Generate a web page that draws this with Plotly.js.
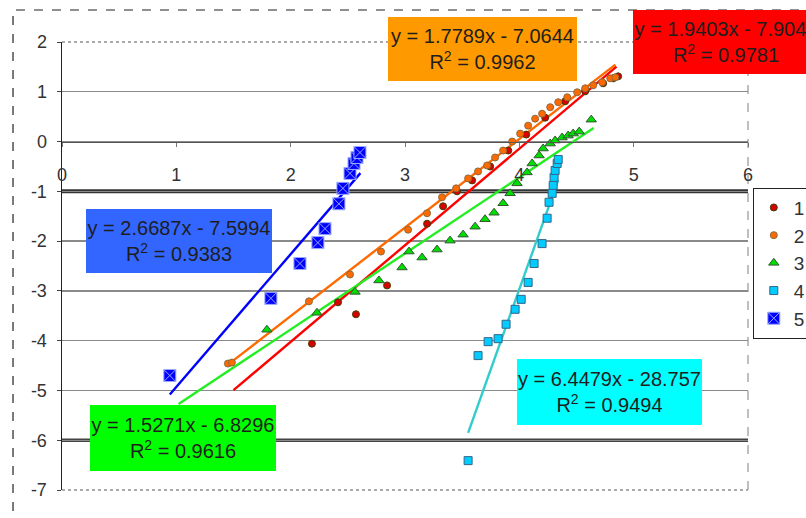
<!DOCTYPE html>
<html>
<head>
<meta charset="utf-8">
<script src="https://cdn.plot.ly/plotly-3.0.1.min.js"></script>
<style>html,body{margin:0;padding:0;background:#fff;}#chart{width:806px;height:518px;}</style>
</head>
<body>
<div id="chart"></div>
<script>
// ---- data ----
const seriesNames = ['1', '2', '3', '4', '5'];

const x1 = [2.186, 2.414, 2.571, 2.843, 3.193, 3.333, 3.455, 3.587, 3.745, 3.903, 4.060, 4.226, 4.401, 4.576, 4.733, 4.820, 4.864];
const y1 = [-4.06, -3.23, -3.47, -2.89, -1.65, -1.30, -1.00, -0.78, -0.50, -0.18, 0.14, 0.48, 0.81, 1.01, 1.17, 1.27, 1.31];

const x2 = [1.451, 1.486, 2.160, 2.519, 2.790, 3.027, 3.193, 3.324, 3.447, 3.552, 3.639, 3.718, 3.788, 3.858, 3.937, 4.007, 4.077, 4.138, 4.199, 4.270, 4.340, 4.419, 4.506, 4.576, 4.646, 4.725, 4.795, 4.839];
const y2 = [-4.46, -4.44, -3.21, -2.67, -2.21, -1.77, -1.44, -1.12, -0.94, -0.74, -0.60, -0.48, -0.32, -0.18, 0.00, 0.16, 0.32, 0.46, 0.56, 0.69, 0.79, 0.89, 0.99, 1.07, 1.13, 1.19, 1.27, 1.29];

const x3 = [1.792, 2.230, 2.563, 2.772, 2.974, 3.035, 3.149, 3.280, 3.394, 3.508, 3.613, 3.700, 3.779, 3.858, 3.919, 3.980, 4.068, 4.112, 4.173, 4.208, 4.270, 4.313, 4.374, 4.427, 4.471, 4.524, 4.629];
const y3 = [-3.78, -3.44, -3.02, -2.79, -2.53, -2.21, -2.33, -2.17, -1.99, -1.87, -1.71, -1.56, -1.43, -1.24, -1.04, -0.84, -0.62, -0.44, -0.28, -0.14, -0.04, 0.02, 0.08, 0.12, 0.16, 0.20, 0.44];

const x4 = [3.552, 3.639, 3.727, 3.814, 3.884, 3.963, 4.016, 4.077, 4.129, 4.199, 4.243, 4.260, 4.287, 4.296, 4.304, 4.313, 4.331, 4.340];
const y4 = [-6.41, -4.30, -4.02, -3.96, -3.67, -3.37, -3.17, -2.83, -2.45, -2.05, -1.54, -1.22, -1.04, -0.88, -0.72, -0.58, -0.44, -0.36];

const x5 = [0.943, 1.827, 2.081, 2.238, 2.300, 2.422, 2.457, 2.519, 2.554, 2.580, 2.606];
const y5 = [-4.70, -3.15, -2.45, -2.03, -1.75, -1.25, -0.94, -0.64, -0.44, -0.32, -0.22];

// linear trendlines: y = slope*x + intercept
const slopes     = [1.9403, 1.7789, 1.5271, 6.4479, 2.6687];
const intercepts = [-7.9043, -7.0644, -6.8296, -28.757, -7.5994];
const r2Values   = ['0.9781', '0.9962', '0.9616', '0.9494', '0.9383'];
const eqLabels   = ['y = 1.9403x - 7.9043', 'y = 1.7789x - 7.0644', 'y = 1.5271x - 6.8296', 'y = 6.4479x - 28.757', 'y = 2.6687x - 7.5994'];
const trendStart = [1.50, 1.46, 1.02, 3.552, 0.943];
const trendEnd   = [4.85, 4.84, 4.65, 4.34, 2.61];

const xTicks = [0, 1, 2, 3, 4, 5, 6];
const yTicks = [2, 1, 0, -1, -2, -3, -4, -5, -6, -7];

// ---- styling ----
const lineColors = ['#FF0000', '#FF6A00', '#22EE22', '#33CCCC', '#0000FF'];
const boxColors  = ['#FF0000', '#FF9900', '#00FF00', '#00FFFF', '#3366FF'];
const markers = [
  {symbol: 'circle', color: '#D80000', size: 7, line: {color: '#404000', width: 1}},
  {symbol: 'circle', color: '#FF6A00', size: 7, line: {color: '#8a6a40', width: 1}},
  {symbol: 'triangle-up', color: '#00DD00', size: 9, line: {color: '#335533', width: 1}},
  {symbol: 'square', color: '#00CCFF', size: 8, line: {color: '#336688', width: 1}},
  {symbol: 'square-x', color: '#0000FF', size: 12, line: {color: '#99AAFF', width: 1}}
];
const xs = [x1, x2, x3, x4, x5];
const ys = [y1, y2, y3, y4, y5];

const traces = [];
// trendlines first (under markers)
for (let i = 0; i < 5; i++) {
  const tx = [trendStart[i], trendEnd[i]];
  traces.push({
    x: tx, y: tx.map(v => slopes[i] * v + intercepts[i]),
    mode: 'lines', type: 'scatter', showlegend: false, hoverinfo: 'skip',
    line: {color: lineColors[i], width: 2.4}
  });
}
for (let i = 0; i < 5; i++) {
  traces.push({
    x: xs[i], y: ys[i], name: seriesNames[i], legendgroup: 'g' + i,
    mode: 'markers', type: 'scatter', marker: markers[i]
  });
}

// equation boxes (centres in data units, size in px)
const boxCx = [4.996, 3.679, 1.0566, 4.790, 1.0216];
const boxCy = [1.991, 1.850, -5.964, -5.040, -2.007];
const boxW  = [186, 189, 186, 185, 186];
const boxH  = [64, 64, 66, 66, 64];
const annotations = [];
for (let i = 0; i < 5; i++) {
  annotations.push({
    x: boxCx[i], y: boxCy[i], xref: 'x', yref: 'y',
    xanchor: i === 0 ? 'left' : 'center', yanchor: 'middle',
    text: eqLabels[i] + '<br>R<sup>2</sup> = ' + r2Values[i],
    showarrow: false, align: 'center',
    bgcolor: boxColors[i], borderpad: 0, borderwidth: 0,
    width: boxW[i], height: boxH[i],
    font: {family: 'Liberation Sans, Arial, sans-serif', size: 20, color: '#1e1e1e'}
  });
}

const shapes = [
  // outer chart border
  {type: 'rect', xref: 'paper', yref: 'paper', x0: -0.0714, x1: 1.3, y0: -0.3, y1: 1.0714,
   line: {color: '#222', width: 1.2, dash: 'dash'}, fillcolor: 'rgba(0,0,0,0)', layer: 'below'},
  // heavy gridlines
  {type: 'line', xref: 'paper', yref: 'y', x0: 0, x1: 1, y0: -1, y1: -1, line: {color: '#333', width: 4}, layer: 'between'},
  {type: 'line', xref: 'paper', yref: 'y', x0: 0, x1: 1, y0: -6, y1: -6, line: {color: '#444', width: 3.5}, layer: 'between'},
  // plot area borders
  {type: 'line', xref: 'paper', yref: 'paper', x0: 0, x1: 1, y0: 1, y1: 1, line: {color: '#aaa', width: 2, dash: 'dot'}, layer: 'between'},
  {type: 'line', xref: 'paper', yref: 'paper', x0: 0, x1: 1, y0: 0, y1: 0, line: {color: '#aaa', width: 2, dash: 'dot'}, layer: 'between'},
  {type: 'line', xref: 'paper', yref: 'paper', x0: 1, x1: 1, y0: 0, y1: 1, line: {color: '#aaa', width: 1.5, dash: 'dash'}, layer: 'between'}
];

const layout = {
  width: 806, height: 518,
  margin: {l: 62, r: 58, t: 42, b: 28, autoexpand: false},
  paper_bgcolor: '#fff', plot_bgcolor: '#fff',
  font: {family: 'Liberation Sans, Arial, sans-serif', color: '#333'},
  xaxis: {
    range: [0, 6], tickvals: xTicks, ticktext: xTicks.map(String),
    anchor: 'free', position: 7 / 9, side: 'bottom',
    showline: true, linecolor: '#555', linewidth: 1.5,
    showgrid: false, zeroline: false,
    ticks: 'outside', ticklen: 4, tickcolor: '#777',
    ticklabelstandoff: 12,
    tickfont: {size: 18, color: '#333'}
  },
  yaxis: {
    range: [-7, 2], tickvals: yTicks, ticktext: yTicks.map(String),
    showline: true, linecolor: '#222', linewidth: 1.5,
    showgrid: true, gridcolor: '#8a8a8a', gridwidth: 1.3,
    zeroline: false,
    ticks: 'outside', ticklen: 4, tickcolor: '#444',
    ticklabelstandoff: 6,
    tickfont: {size: 18, color: '#333'}
  },
  showlegend: true,
  legend: {
    x: 1.007, y: 0.675, xanchor: 'left', yanchor: 'top',
    bgcolor: '#fff', bordercolor: '#222', borderwidth: 1,
    font: {size: 19, color: '#333'}, traceorder: 'normal', tracegroupgap: 4,
    itemwidth: 30
  },
  annotations: annotations,
  shapes: shapes
};

Plotly.newPlot('chart', traces, layout, {staticPlot: true, displayModeBar: false});
</script>
</body>
</html>
